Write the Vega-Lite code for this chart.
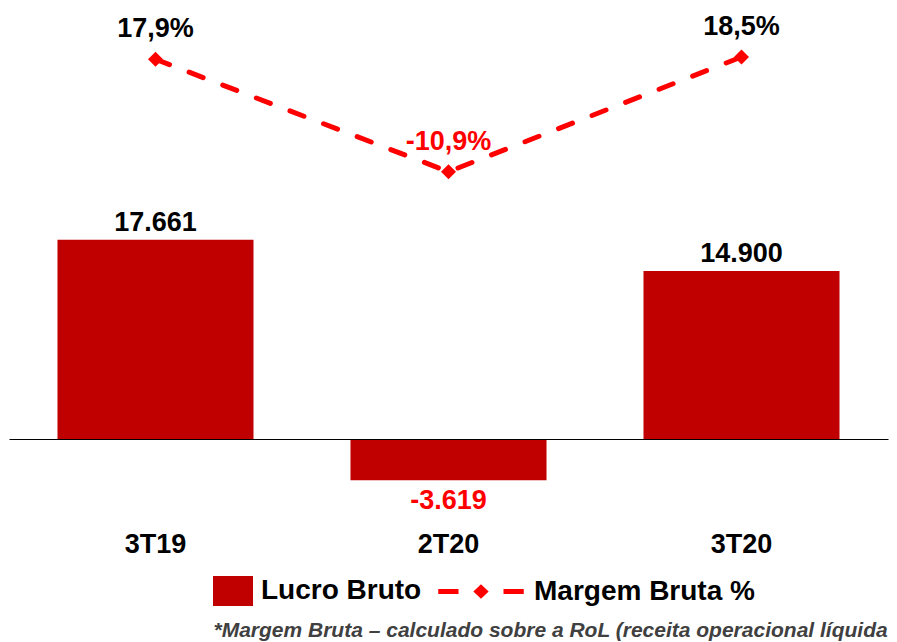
{
  "$schema": "https://vega.github.io/schema/vega-lite/v6.json",
  "width": 879,
  "height": 520,
  "autosize": {"type": "none"},
  "padding": {"left": 9, "top": 0, "right": 9, "bottom": 122},
  "background": "white",
  "config": {"font": "Liberation Sans", "view": {"stroke": null}},
  "data": {
    "values": [
      {"period": "3T19", "lucro": 17661, "lbl_lucro": "17.661", "margem": 17.9, "lbl_margem": "17,9%"},
      {"period": "2T20", "lucro": -3619, "lbl_lucro": "-3.619", "margem": -10.9, "lbl_margem": "-10,9%"},
      {"period": "3T20", "lucro": 14900, "lbl_lucro": "14.900", "margem": 18.5, "lbl_margem": "18,5%"}
    ]
  },
  "encoding": {
    "x": {
      "field": "period",
      "type": "nominal",
      "scale": {"domain": ["3T19", "2T20", "3T20"], "paddingInner": 0.331, "paddingOuter": 0.1655},
      "axis": {
        "domain": false,
        "ticks": false,
        "tickSize": 0,
        "labelAngle": 0,
        "labelFontSize": 27,
        "labelFontWeight": "bold",
        "labelColor": "#000000",
        "labelPadding": 32,
        "labelBaseline": "alphabetic",
        "title": "*Margem Bruta – calculado sobre a RoL (receita operacional líquida",
        "titleFontSize": 21,
        "titleFontStyle": "italic",
        "titleFontWeight": "bold",
        "titleColor": "#404040",
        "titleAnchor": "start",
        "titleAlign": "left",
        "titleBaseline": "alphabetic",
        "titleX": 204,
        "titleY": 116
      }
    }
  },
  "layer": [
    {
      "layer": [
        {
          "mark": {"type": "bar"},
          "encoding": {
            "y": {
              "field": "lucro", "type": "quantitative",
              "scale": {"domain": [-7142, 38876], "nice": false, "zero": false},
              "axis": {"values": [0], "grid": true, "gridColor": "#000000", "gridWidth": 1, "gridOpacity": 1, "labels": false, "ticks": false, "domain": false, "title": null, "zindex": 1}
            },
            "color": {
              "datum": "Lucro Bruto",
              "scale": {"domain": ["Lucro Bruto", "Margem Bruta %"], "range": ["#C00000", "#FF0000"]},
              "legend": {
                "title": null,
                "orient": "none",
                "legendX": 154,
                "legendY": 546,
                "direction": "horizontal",
                "symbolSize": 8100,
                "symbolStrokeWidth": 0,
                "labelFontSize": 28,
                "labelFontWeight": "bold",
                "labelColor": "#000000",
                "labelOffset": 8,
                "columnPadding": 14,
                "labelLimit": 400,
                "encode": {
                  "symbols": {
                    "update": {
                      "shape": {"signal": "datum.value === 'Lucro Bruto' ? 'M0.111,-0.333L1,-0.333L1,0.333L0.111,0.333Z' : 'M-0.95,-0.055L-0.5,-0.055L-0.5,0.055L-0.95,0.055ZM0,-0.16L0.17,0L0,0.16L-0.17,0ZM0.5,-0.055L0.95,-0.055L0.95,0.055L0.5,0.055Z'"},
                      "fill": {"signal": "datum.value === 'Lucro Bruto' ? '#C00000' : '#FF0000'"},
                      "stroke": {"value": "transparent"},
                      "opacity": {"value": 1}
                    }
                  }
                }
              }
            }
          }
        },
        {
          "transform": [{"filter": "datum.lucro >= 0"}],
          "mark": {"type": "text", "fontSize": 27, "fontWeight": "bold", "color": "#000000", "baseline": "alphabetic", "dy": -9},
          "encoding": {
            "y": {
              "field": "lucro", "type": "quantitative",
              "scale": {"domain": [-7142, 38876], "nice": false, "zero": false},
              "axis": {"values": [0], "grid": true, "gridColor": "#000000", "gridWidth": 1, "gridOpacity": 1, "labels": false, "ticks": false, "domain": false, "title": null, "zindex": 1}
            },
            "text": {"field": "lbl_lucro"}
          }
        },
        {
          "transform": [{"filter": "datum.lucro < 0"}],
          "mark": {"type": "text", "fontSize": 27, "fontWeight": "bold", "color": "#FF0000", "baseline": "alphabetic", "dy": 29},
          "encoding": {
            "y": {
              "field": "lucro", "type": "quantitative",
              "scale": {"domain": [-7142, 38876], "nice": false, "zero": false},
              "axis": {"values": [0], "grid": true, "gridColor": "#000000", "gridWidth": 1, "gridOpacity": 1, "labels": false, "ticks": false, "domain": false, "title": null, "zindex": 1}
            },
            "text": {"field": "lbl_lucro"}
          }
        }
      ]
    },
    {
      "layer": [
        {
          "mark": {"type": "line", "strokeWidth": 5, "strokeDash": [15, 21], "strokeCap": "round"},
          "encoding": {
            "y": {"field": "margem", "type": "quantitative", "scale": {"domain": [-100.14, 33.09], "nice": false, "zero": false}, "axis": null},
            "color": {
              "datum": "Margem Bruta %",
              "scale": {"domain": ["Lucro Bruto", "Margem Bruta %"], "range": ["#C00000", "#FF0000"]},
              "legend": {
                "title": null,
                "orient": "none",
                "legendX": 154,
                "legendY": 546,
                "direction": "horizontal",
                "symbolSize": 8100,
                "symbolStrokeWidth": 0,
                "labelFontSize": 28,
                "labelFontWeight": "bold",
                "labelColor": "#000000",
                "labelOffset": 8,
                "columnPadding": 14,
                "labelLimit": 400,
                "encode": {
                  "symbols": {
                    "update": {
                      "shape": {"signal": "datum.value === 'Lucro Bruto' ? 'M0.111,-0.333L1,-0.333L1,0.333L0.111,0.333Z' : 'M-0.95,-0.055L-0.5,-0.055L-0.5,0.055L-0.95,0.055ZM0,-0.16L0.17,0L0,0.16L-0.17,0ZM0.5,-0.055L0.95,-0.055L0.95,0.055L0.5,0.055Z'"},
                      "fill": {"signal": "datum.value === 'Lucro Bruto' ? '#C00000' : '#FF0000'"},
                      "stroke": {"value": "transparent"},
                      "opacity": {"value": 1}
                    }
                  }
                }
              }
            }
          }
        },
        {
          "mark": {"type": "point", "shape": "diamond", "filled": true, "size": 225, "opacity": 1},
          "encoding": {
            "y": {"field": "margem", "type": "quantitative", "scale": {"domain": [-100.14, 33.09], "nice": false, "zero": false}, "axis": null},
            "color": {
              "datum": "Margem Bruta %",
              "scale": {"domain": ["Lucro Bruto", "Margem Bruta %"], "range": ["#C00000", "#FF0000"]},
              "legend": {
                "title": null,
                "orient": "none",
                "legendX": 154,
                "legendY": 546,
                "direction": "horizontal",
                "symbolSize": 8100,
                "symbolStrokeWidth": 0,
                "labelFontSize": 28,
                "labelFontWeight": "bold",
                "labelColor": "#000000",
                "labelOffset": 8,
                "columnPadding": 14,
                "labelLimit": 400,
                "encode": {
                  "symbols": {
                    "update": {
                      "shape": {"signal": "datum.value === 'Lucro Bruto' ? 'M0.111,-0.333L1,-0.333L1,0.333L0.111,0.333Z' : 'M-0.95,-0.055L-0.5,-0.055L-0.5,0.055L-0.95,0.055ZM0,-0.16L0.17,0L0,0.16L-0.17,0ZM0.5,-0.055L0.95,-0.055L0.95,0.055L0.5,0.055Z'"},
                      "fill": {"signal": "datum.value === 'Lucro Bruto' ? '#C00000' : '#FF0000'"},
                      "stroke": {"value": "transparent"},
                      "opacity": {"value": 1}
                    }
                  }
                }
              }
            }
          }
        },
        {
          "mark": {"type": "text", "fontSize": 27, "fontWeight": "bold", "baseline": "alphabetic", "dy": -22},
          "encoding": {
            "y": {"field": "margem", "type": "quantitative", "scale": {"domain": [-100.14, 33.09], "nice": false, "zero": false}, "axis": null},
            "text": {"field": "lbl_margem"},
            "color": {"condition": {"test": "datum.margem < 0", "value": "#FF0000"}, "value": "#000000"}
          }
        }
      ]
    }
  ],
  "resolve": {"scale": {"y": "independent"}}
}
